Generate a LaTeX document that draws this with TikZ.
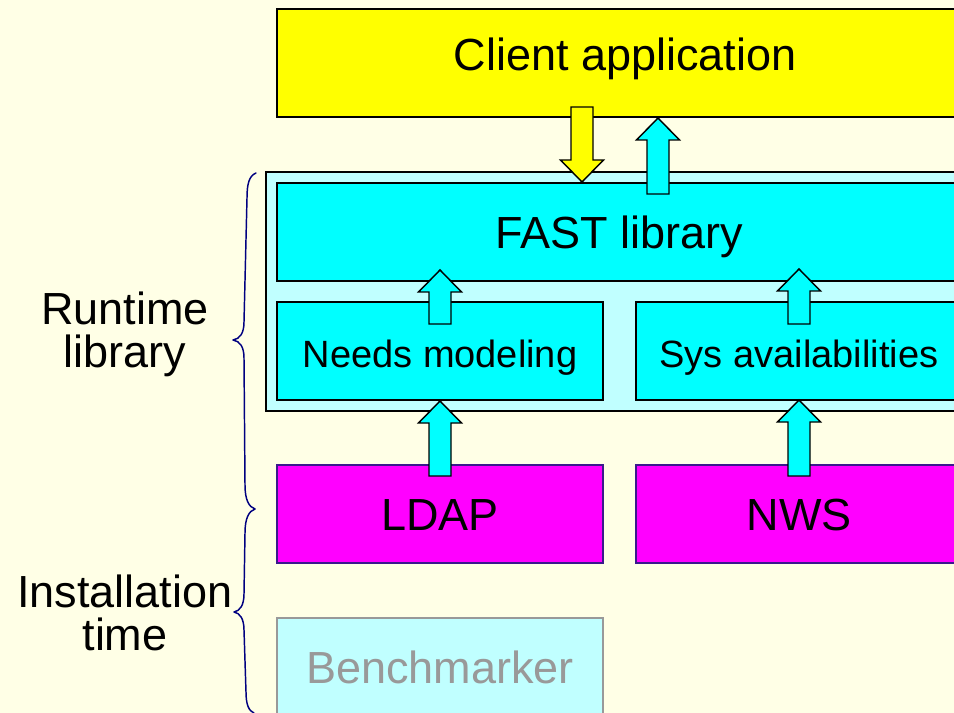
\documentclass[tikz,border=0pt]{standalone}
\usepackage{fontspec}
\setmainfont{Liberation Sans}
\usetikzlibrary{calc}

\definecolor{paper}{HTML}{FFFFE6}
\definecolor{aqua}{HTML}{00FFFF}
\definecolor{paleaqua}{HTML}{C0FFFF}
\definecolor{lemon}{HTML}{FFFF00}
\definecolor{fuchsia}{HTML}{FF00FF}
\definecolor{bracenavy}{HTML}{000080}
\definecolor{greytext}{HTML}{999999}
\definecolor{violetedge}{HTML}{3A1A8C}

\newcommand{\bigtext}{\fontsize{33.75pt}{32.25pt}\selectfont}
\newcommand{\smalltext}{\fontsize{28.5pt}{30pt}\selectfont}

% block arrow pointing up, tip at #2, total length #3
\newcommand{\uparrowblock}[3]{%
  \filldraw[blockarrow, fill=#1, shift={#2}]
    (0,0) -- (21.5,22) -- (11,22) -- (11,#3) -- (-11,#3) -- (-11,22) -- (-21.5,22) -- cycle;}
% block arrow pointing down, tip at #2, total length #3
\newcommand{\downarrowblock}[3]{%
  \filldraw[blockarrow, fill=#1, shift={#2}]
    (0,0) -- (21.5,-22) -- (11,-22) -- (11,-#3) -- (-11,-#3) -- (-11,-22) -- (-21.5,-22) -- cycle;}

\tikzset{
  box/.style={draw=black, line width=1.1pt, inner sep=0pt, outer sep=0pt,
    font=\bigtext, text=black, text height=24pt, text depth=0pt,
    minimum width=244.5pt, minimum height=73.5pt},
  blockarrow/.style={draw=black, line width=1.1pt, line join=miter},
  bracepath/.style={draw=bracenavy, line width=1.1pt, line cap=round, line join=round},
  sidelabel/.style={font=\bigtext, align=center, inner sep=0pt, text=black},
}

\begin{document}
\begin{tikzpicture}[x=0.75pt, y=-0.75pt]
  \useasboundingbox (0,0) rectangle (954,713);
  \clip (0,0) rectangle (954,713);
  \fill[paper] (0,0) rectangle (954,713);

  % runtime library frame and its parts
  \node[box, fill=paleaqua, minimum width=530.25pt, minimum height=179.25pt] (frame) at (619.5,291.5) {};
  \node[box, fill=aqua, minimum width=513.75pt] (fast) at (619.5,232) {FAST library};
  \node[box, fill=aqua, font=\smalltext] (needs) at (440,351) {Needs modeling};
  \node[box, fill=aqua, font=\smalltext] (sys) at (799,351) {Sys availabilities};

  % information sources
  \node[box, fill=fuchsia, draw=violetedge, line width=0.8pt] (ldap) at (440,514) {LDAP};
  \node[box, fill=fuchsia, draw=violetedge, line width=0.8pt] (nws) at (799,514) {NWS};
  \node[box, fill=paleaqua, draw=greytext, line width=0.8pt, text=greytext] (bench) at (440,667) {Benchmarker};

  % client on top
  \node[box, fill=lemon, minimum width=522pt, minimum height=81pt, text depth=12pt] (client) at (625,63) {Client application};

  % data flow arrows
  \downarrowblock{lemon}{($(fast.north west)+(305,-1)$)}{75}
  \uparrowblock{aqua}{($(client.south west)+(381,1)$)}{76}
  \uparrowblock{aqua}{($(needs.north)+(0,-32)$)}{54}
  \uparrowblock{aqua}{($(sys.north)+(0,-33)$)}{55}
  \uparrowblock{aqua}{($(needs.south)+(0,1)$)}{75}
  \uparrowblock{aqua}{($(sys.south)+(0,0)$)}{76}

  % braces
  \draw[bracepath] (256,173) .. controls (249,176) and (247,184) .. (247,198)
    -- (244,322) .. controls (244,333) and (240,339) .. (233,340)
    .. controls (240,341) and (244,347) .. (244,358)
    -- (245,485) .. controls (245,500) and (249,507) .. (255,509);
  \draw[bracepath] (255,509) .. controls (249,511) and (245,518) .. (245,533)
    -- (244,594) .. controls (244,605) and (240,611) .. (234,612)
    .. controls (240,613) and (244,619) .. (244,630)
    -- (246,692) .. controls (246,705) and (249,711) .. (254,713);

  \node[sidelabel] (runtime) at (125,334) {Runtime\\library};
  \node[sidelabel] (install) at (125,613) {Installation\\time};
\end{tikzpicture}
\end{document}
